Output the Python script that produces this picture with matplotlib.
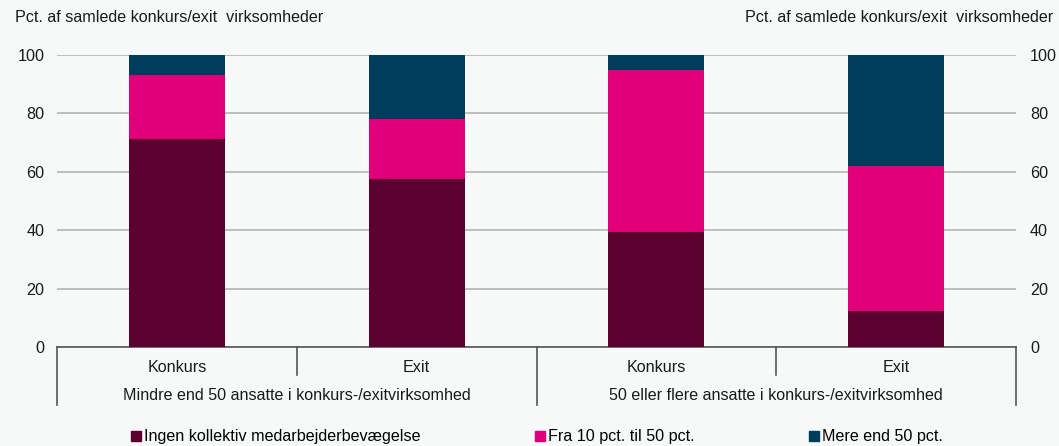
import matplotlib.pyplot as plt
from matplotlib.patches import Patch
import numpy as np

plt.rcParams['font.family'] = ['Liberation Sans', 'DejaVu Sans']

# data
sub_labels = ['Konkurs', 'Exit', 'Konkurs', 'Exit']
group_labels = ['Mindre end 50 ansatte i konkurs-/exitvirksomhed',
                '50 eller flere ansatte i konkurs-/exitvirksomhed']
series_names = ['Ingen kollektiv medarbejderbevægelse',
                'Fra 10 pct. til 50 pct.',
                'Mere end 50 pct.']
ingen = [71.2, 57.5, 39.4, 12.3]
fra10 = [22.0, 20.6, 55.5, 49.7]
mere50 = [6.8, 21.9, 5.1, 38.0]
colors = ['#5c0030', '#e2007a', '#003d5c']
bg = '#f7f9f9'
fs = 11.6

fig = plt.figure(figsize=(10.59, 4.46), dpi=100, facecolor=bg)
ax = fig.add_axes([57/1059, 1 - 347/446, (1016-57)/1059, 292/446])
ax.set_facecolor(bg)

x = np.arange(len(sub_labels))
w = 0.4
bottom = np.zeros(len(x))
for vals, c in zip([ingen, fra10, mere50], colors):
    ax.bar(x, vals, w, bottom=bottom, color=c, zorder=3)
    bottom += np.array(vals)

ax.set_xlim(-0.5, 3.5)
ax.set_ylim(0, 100)
ax.set_yticks(range(0, 101, 20))
ax.yaxis.grid(True, color='#b4b4b4', linewidth=1.2, zorder=0)
ax.tick_params(axis='y', length=0, pad=9, labelsize=fs, colors='#1a1a1a')
ax.set_xticks([])
for s in ['top', 'right', 'left']:
    ax.spines[s].set_visible(False)
ax.spines['bottom'].set_color('#555555')
ax.spines['bottom'].set_linewidth(1.2)

ax2 = ax.twinx()
ax2.set_ylim(0, 100)
ax2.set_yticks(range(0, 101, 20))
ax2.tick_params(axis='y', length=0, pad=10, labelsize=fs, colors='#1a1a1a')
for s in ax2.spines.values():
    s.set_visible(False)

tr = ax.get_xaxis_transform()
ah = 292
for xi, lab in zip(x, sub_labels):
    ax.text(xi, -20/ah, lab, transform=tr, ha='center', va='center', fontsize=fs, color='#1a1a1a')
for gi, lab in enumerate(group_labels):
    ax.text(gi*2 + 0.5, -48/ah, lab, transform=tr, ha='center', va='center', fontsize=fs, color='#1a1a1a')
for b in [0.5, 2.5]:
    ax.plot([b, b], [0, -28/ah], transform=tr, color='#555555', lw=1.2, clip_on=False)
for b in [-0.5, 1.5, 3.5]:
    ax.plot([b, b], [0, -58/ah], transform=tr, color='#555555', lw=1.2, clip_on=False)

fig.text(15/1059, 1 - 18/446, 'Pct. af samlede konkurs/exit  virksomheder', ha='left', va='center', fontsize=fs, color='#1a1a1a')
fig.text(745/1059, 1 - 18/446, 'Pct. af samlede konkurs/exit  virksomheder', ha='left', va='center', fontsize=fs, color='#1a1a1a')

handles = [Patch(color=c) for c in colors]
fig.legend(handles, series_names, loc='center', bbox_to_anchor=(537/1059, 1 - 437/446), ncol=3,
           frameon=False, fontsize=fs, handlelength=0.6, handleheight=0.6, handletextpad=0.2,
           columnspacing=7.1)

fig.savefig('out.png', dpi=100, facecolor=bg)
